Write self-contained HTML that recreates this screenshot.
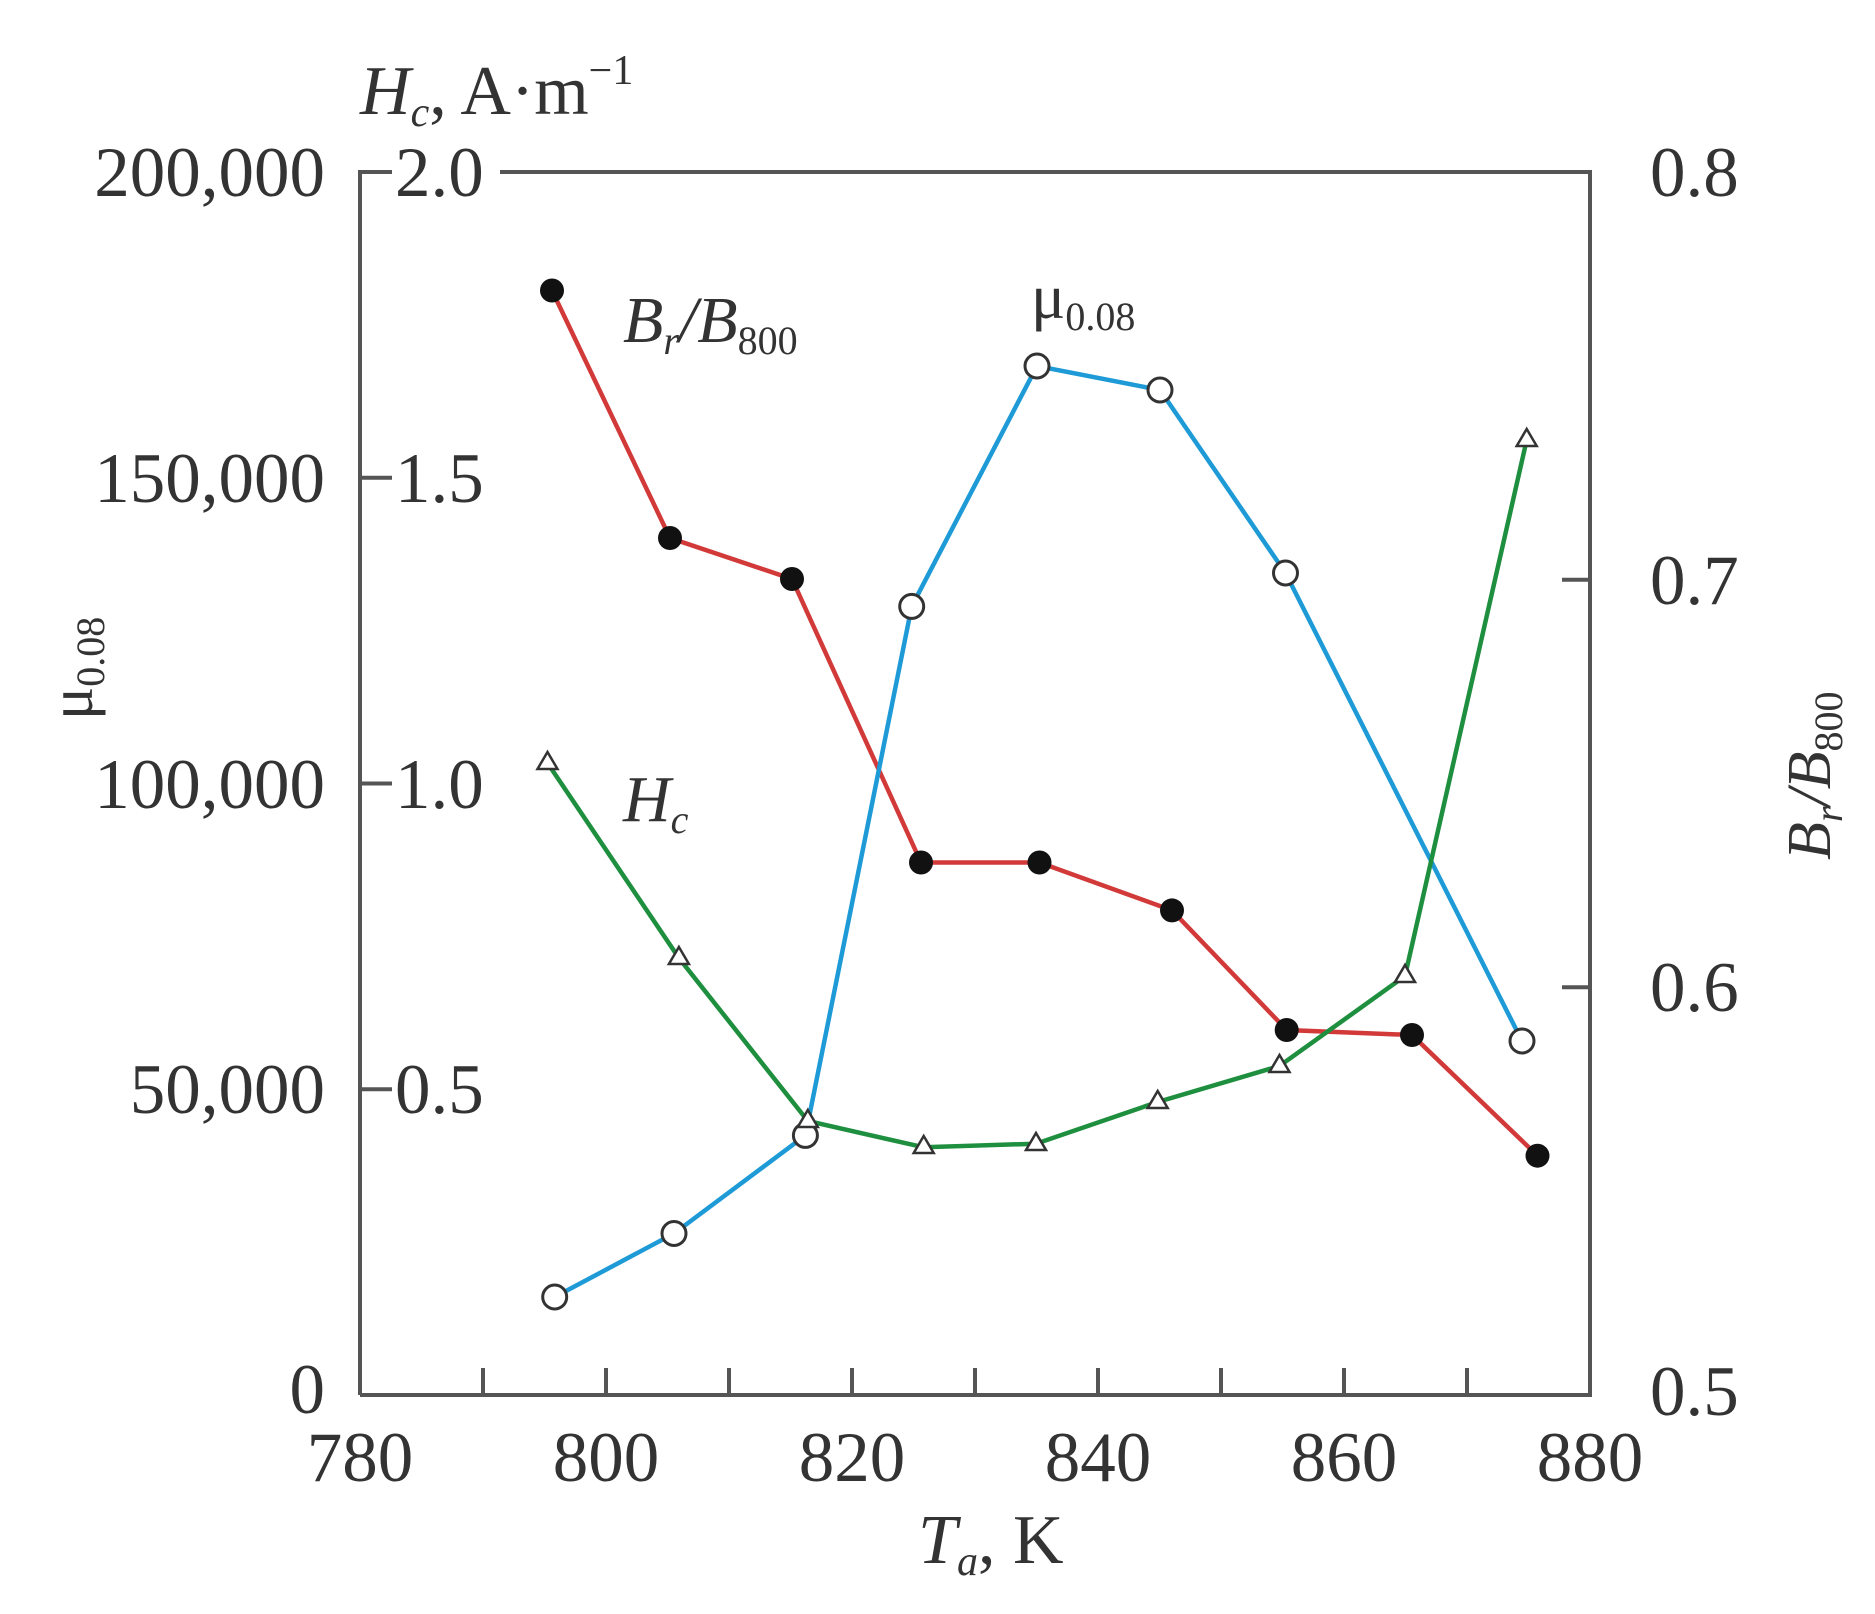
<!DOCTYPE html>
<html><head><meta charset="utf-8"><style>
html,body{margin:0;padding:0;background:#fff;}
svg{display:block}
text{font-family:"Liberation Serif",serif;fill:#333;}
</style></head><body>
<svg width="1875" height="1614" viewBox="0 0 1875 1614" xmlns="http://www.w3.org/2000/svg">
<g stroke="#555" stroke-width="4" fill="none">
<path d="M360,1395 L360,172 L392,172 M500,172 L1590,172 L1590,1395 L360,1395"/>
<path d="M360,477.75 L392,477.75 M360,783.5 L392,783.5 M360,1089.25 L392,1089.25"/>
<path d="M1590,579.7 L1562,579.7 M1590,987.3 L1562,987.3"/>
<path d="M483,1395 V1368 M606,1395 V1368 M729,1395 V1368 M852,1395 V1368 M975,1395 V1368 M1098,1395 V1368 M1221,1395 V1368 M1344,1395 V1368 M1467,1395 V1368"/>
</g>
<g font-size="71" text-anchor="end">
<text x="325" y="196">200,000</text>
<text x="325" y="502">150,000</text>
<text x="325" y="808">100,000</text>
<text x="325" y="1113">50,000</text>
<text x="325" y="1413">0</text>
</g>
<g font-size="71">
<text x="395" y="196">2.0</text>
<text x="395" y="502">1.5</text>
<text x="395" y="808">1.0</text>
<text x="395" y="1113">0.5</text>
<text x="1650" y="196">0.8</text>
<text x="1650" y="604">0.7</text>
<text x="1650" y="1011">0.6</text>
<text x="1650" y="1415">0.5</text>
</g>
<g font-size="71" text-anchor="middle">
<text x="360" y="1481">780</text>
<text x="606" y="1481">800</text>
<text x="852" y="1481">820</text>
<text x="1098" y="1481">840</text>
<text x="1344" y="1481">860</text>
<text x="1590" y="1481">880</text>
</g>
<text x="360" y="114" font-size="70"><tspan font-style="italic">H</tspan><tspan font-style="italic" font-size="42" dy="12">c</tspan><tspan dy="-12">, A·m</tspan><tspan font-size="42" dy="-30">−1</tspan></text>
<text x="918" y="1563" font-size="70"><tspan font-style="italic">T</tspan><tspan font-style="italic" font-size="42" dy="12">a</tspan><tspan dy="-12">, K</tspan></text>
<text transform="translate(92,720) rotate(-90)" font-size="62">μ<tspan font-size="40" dy="12">0.08</tspan></text>
<text transform="translate(1830,860) rotate(-90)" font-size="62" font-style="italic">B<tspan font-size="40" dy="12">r</tspan><tspan dy="-12">/B</tspan><tspan font-size="40" dy="12" font-style="normal">800</tspan></text>
<text x="623" y="342" font-size="66" font-style="italic">B<tspan font-size="40" dy="12">r</tspan><tspan dy="-12">/B</tspan><tspan font-size="40" dy="12" font-style="normal">800</tspan></text>
<text x="1031" y="318" font-size="64">μ<tspan font-size="40" dy="12">0.08</tspan></text>
<text x="623" y="821" font-size="66" font-style="italic">H<tspan font-size="40" dy="12">c</tspan></text>
<polyline fill="none" stroke="#d23a3a" stroke-width="4.5" points="552,290.5 670,538 792,579 921,862.5 1039.5,862.5 1172,910.4 1286.7,1030 1412,1035 1537.5,1155.7"/>
<polyline fill="none" stroke="#1e9bd7" stroke-width="4.5" points="554.7,1297 674,1233.5 805.4,1135.4 911.7,606.4 1037,366 1160,390 1285.5,573 1522,1041"/>
<polyline fill="none" stroke="#1e8f3e" stroke-width="4.5" points="547.5,763 678.9,958 807.8,1121 923.7,1147.3 1036,1143.7 1157.7,1102 1279.5,1066 1405,976 1526.7,440"/>
<g fill="#111">
<circle cx="552" cy="290.5" r="12"/><circle cx="670" cy="538" r="12"/><circle cx="792" cy="579" r="12"/><circle cx="921" cy="862.5" r="12"/><circle cx="1039.5" cy="862.5" r="12"/><circle cx="1172" cy="910.4" r="12"/><circle cx="1286.7" cy="1030" r="12"/><circle cx="1412" cy="1035" r="12"/><circle cx="1537.5" cy="1155.7" r="12"/>
</g>
<g fill="#fff" stroke="#333" stroke-width="3">
<circle cx="554.7" cy="1297" r="12"/><circle cx="674" cy="1233.5" r="12"/><circle cx="805.4" cy="1135.4" r="12"/><circle cx="911.7" cy="606.4" r="12"/><circle cx="1037" cy="366" r="12"/><circle cx="1160" cy="390" r="12"/><circle cx="1285.5" cy="573" r="12"/><circle cx="1522" cy="1041" r="12"/>
</g>
<g fill="#fff" stroke="#333" stroke-width="2.5">
<polygon points="547.5,752 557.5,769 537.5,769"/>
<polygon points="678.9,947 688.9,964 668.9,964"/>
<polygon points="807.8,1110 817.8,1127 797.8,1127"/>
<polygon points="923.7,1136 933.7,1153 913.7,1153"/>
<polygon points="1036,1133 1046,1150 1026,1150"/>
<polygon points="1157.7,1091 1167.7,1108 1147.7,1108"/>
<polygon points="1279.5,1055 1289.5,1072 1269.5,1072"/>
<polygon points="1405,965 1415,982 1395,982"/>
<polygon points="1526.7,429 1536.7,446 1516.7,446"/>
</g>
</svg>
</body></html>
